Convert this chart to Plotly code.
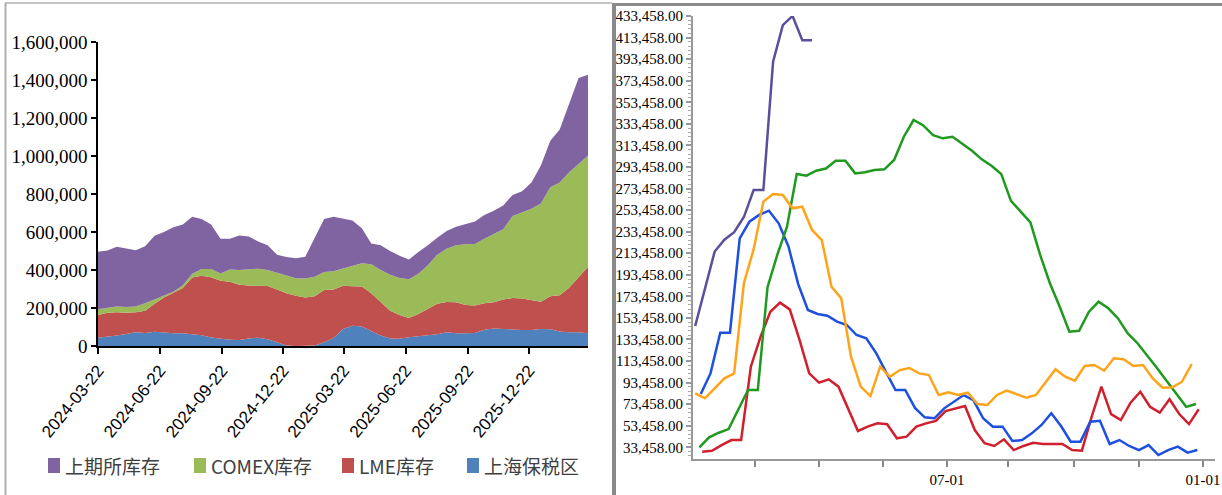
import pandas as pd
import plotly.graph_objects as go

W, H = 1222, 495

# ---------------- left panel: stacked inventories (tonnes), biweekly ----------------
stack_start = "2024-03-22"
stack_names = ["上海保税区", "LME库存", "COMEX库存", "上期所库存"]
bonded = [44000, 48000, 55000, 63000, 73000, 68000, 75000, 71000, 67000, 67000,
          60000, 56000, 45000, 40000, 33000, 32000, 40000, 44000, 35000, 20000,
          3000, 0, 0, 2000, 20000, 42000, 90000, 107000, 102000, 77000,
          55000, 40000, 38000, 46000, 52000, 56000, 62000, 72000, 67000, 67000,
          68000, 86000, 92000, 90000, 86000, 84000, 84000, 90000, 88000, 76000,
          72000, 73000, 67000]
lme = [119000, 127000, 122000, 112000, 105000, 117000, 147000, 184000, 213000, 238000,
       300000, 314000, 317000, 304000, 305000, 290000, 278000, 274000, 281000, 278000,
       274000, 265000, 255000, 260000, 275000, 256000, 227000, 208000, 211000, 200000,
       175000, 145000, 125000, 101000, 116000, 140000, 160000, 160000, 163000, 149000,
       145000, 139000, 138000, 155000, 166000, 166000, 156000, 143000, 174000, 191000,
       234000, 289000, 350000]
comex = [30000, 25000, 31000, 30000, 30000, 40000, 23000, 7000, 5000, 15000,
         20000, 35000, 43000, 38000, 64000, 78000, 87000, 89000, 84000, 87000,
         91000, 92000, 100000, 103000, 95000, 95000, 91000, 105000, 122000, 153000,
         170000, 190000, 195000, 204000, 212000, 229000, 258000, 280000, 300000, 319000,
         324000, 340000, 358000, 370000, 432000, 455000, 482000, 517000, 574000, 593000,
         609000, 596000, 585000]
shfe = [303000, 303000, 314000, 309000, 296000, 300000, 335000, 338000, 340000, 320000,
        300000, 263000, 235000, 183000, 163000, 182000, 171000, 143000, 130000, 95000,
        100000, 105000, 115000, 205000, 278000, 287000, 262000, 240000, 185000, 110000,
        130000, 125000, 117000, 104000, 115000, 105000, 90000, 93000, 98000, 105000,
        118000, 125000, 124000, 125000, 111000, 110000, 138000, 200000, 244000, 280000,
        365000, 452000, 426000]
stack_colors = ["#4f81bd", "#c0504d", "#9bbb59", "#8064a2"]

left_ticks = ["2024-03-22", "2024-06-22", "2024-09-22", "2024-12-22",
              "2025-03-22", "2025-06-22", "2025-09-22", "2025-12-22"]

# ---------------- right panel: seasonal weekly lines ----------------
season_start = {
    "2022": "2025-01-06",
    "2023": "2025-01-05",
    "2024": "2025-01-04",
    "2025": "2025-01-01",
    "2026": "2025-01-01",
}
season_values = {
    "2022": [29400, 30300, 35500, 40200, 40200, 108200, 136100, 159200, 167600, 161400,
             133000, 102000, 93400, 96500, 89700, 69600, 48600, 52600, 55700, 54800,
             41800, 43300, 52600, 55700, 57900, 67100, 69600, 71800, 49500, 37200,
             34700, 40900, 30900, 34700, 37700, 36500, 36500, 36500, 30900, 30300,
             61700, 89700, 64300, 58700, 74800, 85000, 71100, 65600, 78000, 64300,
             55000, 68700],
    "2023": [82900, 102000, 139700, 139700, 227300, 242700, 249000, 252900, 241200, 220000,
             185000, 160800, 157100, 155500, 150000, 146900, 137600, 134500, 121000, 104000,
             86600, 86600, 70000, 61300, 60400, 69600, 75700, 81900, 77300, 60400,
             52600, 52600, 39300, 40200, 46400, 54200, 65000, 53200, 38700, 38700,
             57200, 58100, 36500, 40200, 34700, 30900, 35500, 26300, 30900, 34100,
             28500, 30900],
    "2024": [33500, 42700, 47000, 50400, 68500, 86600, 86600, 182000, 212000, 238000,
             287000, 285400, 290000, 292000, 299300, 299300, 287500, 288500, 290600, 291300,
             300000, 321500, 337000, 332000, 323000, 320000, 321500, 315000, 308500, 300500,
             294600, 287000, 262000, 252000, 242000, 212000, 185600, 164000, 140700, 141600,
             159000, 168500, 162400, 153000, 139000, 130000, 119000, 107000, 95000, 83500,
             71000, 73600],
    "2025": [83500, 78900, 88200, 97400, 102000, 185600, 217000, 261300, 268400, 267500,
             255100, 256600, 235000, 225700, 182400, 171600, 117500, 89700, 81000, 108200,
             98900, 105100, 107000, 102000, 100500, 82000, 84400, 82000, 84100, 73600,
             72700, 82000, 86000, 82600, 79500, 82000, 94300, 105800, 99000, 95300,
             108900, 109800, 104500, 116000, 115100, 108900, 109800, 97400, 88800, 89100,
             94300, 110700],
    "2026": [146000, 181000, 215000, 226000, 233000, 247000, 272000, 272000, 391000, 425000,
             433500, 411000, 411000],
}
season_colors = {
    "2022": "#d0202e",
    "2023": "#1d4fe0",
    "2024": "#1f991f",
    "2025": "#ffa31a",
    "2026": "#5b4f9c",
}
right_tick_dates = ["2025-02-13", "2025-03-31", "2025-05-16", "2025-07-01",
                    "2025-08-14", "2025-09-30", "2025-11-16", "2026-01-01"]
right_tick_text = ["", "", "", "07-01", "", "", "", "01-01"]
right_y_ticks = [33458 + 20000 * k for k in range(21)]

fig = go.Figure()

stack_dates = pd.date_range(stack_start, periods=len(shfe), freq="14D")
for name, vals, col in zip(stack_names, [bonded, lme, comex, shfe], stack_colors):
    fig.add_trace(go.Scatter(
        x=stack_dates, y=vals, name=name, stackgroup="inv", mode="lines",
        line=dict(width=0, color=col), fillcolor=col,
        xaxis="x", yaxis="y", showlegend=False, hoverinfo="skip",
    ))

for key in ["2022", "2023", "2024", "2025", "2026"]:
    vals = season_values[key]
    dates = pd.date_range(season_start[key], periods=len(vals), freq="7D")
    fig.add_trace(go.Scatter(
        x=dates, y=vals, name=key, mode="lines",
        line=dict(width=2.5, color=season_colors[key]),
        xaxis="x2", yaxis="y2", showlegend=False,
    ))


def px_x(p):
    return p / W


def px_y(p):
    return 1 - p / H


serif = "Liberation Serif"
fig.update_layout(
    width=W, height=H,
    margin=dict(l=0, r=0, t=0, b=0, autoexpand=False),
    paper_bgcolor="white", plot_bgcolor="white",
    showlegend=False,
    xaxis=dict(
        domain=[px_x(98), px_x(588)], type="date",
        range=[stack_dates[0], stack_dates[-1]],
        tickmode="array", tickvals=left_ticks, ticktext=left_ticks,
        tickangle=-51, ticks="outside", ticklen=6, tickwidth=2, tickcolor="black",
        showline=True, linecolor="black", linewidth=2,
        showgrid=False, zeroline=False, automargin=False,
        tickfont=dict(family="Liberation Sans", size=17, color="black"),
        anchor="y",
    ),
    yaxis=dict(
        domain=[px_y(346), px_y(42)], range=[0, 1600000],
        tickmode="linear", tick0=0, dtick=200000, tickformat=",d",
        ticks="outside", ticklen=5, tickwidth=1.5, tickcolor="black",
        showline=True, linecolor="black", linewidth=1.5,
        showgrid=False, zeroline=False, automargin=False,
        tickfont=dict(family=serif, size=19, color="black"),
        anchor="x",
    ),
    xaxis2=dict(
        domain=[px_x(693), px_x(1215)], type="date",
        range=["2024-12-30 10:00", "2026-01-09 17:00"],
        tickmode="array", tickvals=right_tick_dates, ticktext=right_tick_text,
        tickangle=0, ticks="outside", ticklen=6, tickwidth=1.5, tickcolor="#888888",
        showline=True, linecolor="#999999", linewidth=2,
        showgrid=False, zeroline=False, automargin=False,
        tickfont=dict(family=serif, size=15, color="black"),
        anchor="y2",
    ),
    yaxis2=dict(
        domain=[px_y(459), px_y(16)], range=[22620, 433458],
        tickmode="array", tickvals=right_y_ticks, tickformat=",.2f",
        ticks="outside", ticklen=5, tickwidth=1.5, tickcolor="#999999",
        minor=dict(tickmode="linear", tick0=33458, dtick=4000, ticks="outside",
                   ticklen=3, tickcolor="#aaaaaa", tickwidth=1),
        showline=True, linecolor="#999999", linewidth=2,
        showgrid=False, zeroline=False, automargin=False,
        tickfont=dict(family=serif, size=15, color="black"),
        anchor="x2",
    ),
)

# panel frames
frame = [
    dict(x0=5, x1=612, y0=3, y1=3, color="#b0b0b0", width=1.5),
    dict(x0=5.5, x1=5.5, y0=3, y1=495, color="#b0b0b0", width=2),
    dict(x0=614, x1=614, y0=3, y1=495, color="#8a8a8a", width=4),
    dict(x0=614, x1=1222, y0=4.5, y1=4.5, color="#8a8a8a", width=3),
]
for f in frame:
    fig.add_shape(type="line", xref="paper", yref="paper",
                  x0=px_x(f["x0"]), x1=px_x(f["x1"]),
                  y0=px_y(f["y0"]), y1=px_y(f["y1"]),
                  line=dict(color=f["color"], width=f["width"]))

# legend for the stacked panel
legend_items = [("上期所库存", "#8064a2", 48), ("COMEX库存", "#9bbb59", 194),
                ("LME库存", "#c0504d", 342), ("上海保税区", "#4f81bd", 467)]
for label, col, x0 in legend_items:
    fig.add_shape(type="rect", xref="paper", yref="paper",
                  x0=px_x(x0), x1=px_x(x0 + 12), y0=px_y(473), y1=px_y(458),
                  fillcolor=col, line=dict(width=0))
    fig.add_annotation(xref="paper", yref="paper", x=px_x(x0 + 15), y=px_y(465.5),
                       text=label, showarrow=False, xanchor="left", yanchor="middle",
                       font=dict(family="Noto Sans CJK SC", size=19, color="#404040"))

fig.write_html("out.html")
